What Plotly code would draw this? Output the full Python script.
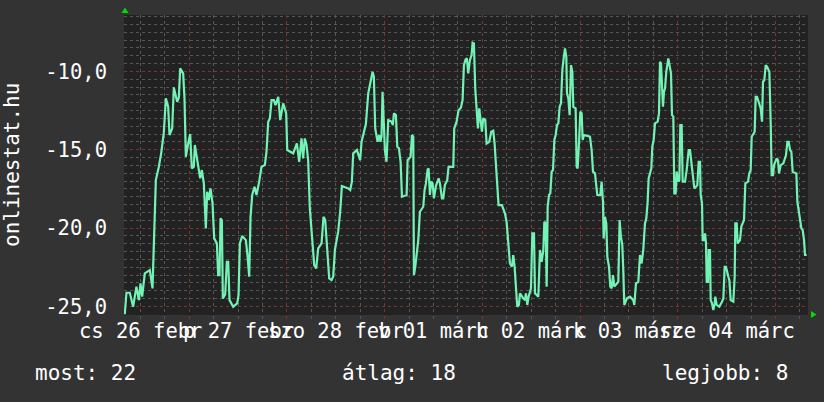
import plotly.graph_objects as go

# hours since 2015-02-26 00:00 and the plotted (negated) rank values
hours = [
    8.20, 8.60, 9.42, 10.24, 11.05, 11.64, 12.05, 12.46, 13.11, 14.34, 15.0, 15.41, 15.82, 16.56, 17.13,
    17.78, 18.28, 18.85, 19.18, 19.83, 20.24, 21.06, 21.47, 21.8, 22.53, 22.86, 23.19, 23.76, 24.25, 24.66,
    25.15, 25.4, 25.97, 26.71, 27.12, 27.61, 28.1, 28.43, 28.84, 29.25, 29.74, 30.15, 30.81, 31.13, 31.46,
    31.71, 32.03, 32.28, 32.85, 33.26, 33.59, 33.92, 34.82, 35.8, 36.13, 36.46, 37.03, 37.93, 38.34, 38.75,
    39.08, 39.49, 40.06, 40.55, 41.2,
    41.78, 42.6, 43.0, 43.42, 43.83, 44.24, 44.81, 45.22, 45.88, 46.37, 47.1, 47.84, 48.09, 49.56, 50.46,
    51.03, 51.6, 52.0, 52.42, 52.83, 53.23, 53.64, 54.05, 54.72, 55.21, 55.7, 56.52, 57.0, 57.42, 57.99,
    58.4, 58.97, 59.38, 59.8, 60.6, 61.1, 61.52, 63.07, 63.56, 63.97, 64.3, 65.2, 66.0, 66.35, 66.84,
    67.41, 67.99, 68.56, 69.05, 69.37, 69.7, 70.28, 70.68, 71.0, 71.25, 71.5, 71.83, 72.08, 72.48, 72.9,
    73.71, 74.04, 74.3,
    74.79, 75.12, 75.53, 75.94, 76.27, 77.41, 77.66, 78.4, 78.72, 79.05, 79.21, 79.54, 79.87, 80.28, 80.68,
    81.5, 81.83, 82.16, 82.57, 82.81, 83.14, 83.47, 83.8, 84.12, 84.61, 85.27, 85.6, 86.09, 86.41, 86.82,
    87.39, 87.72, 88.87, 89.11, 89.69, 90.18, 90.75, 91.16, 91.49, 91.9, 92.22, 92.55, 92.96, 93.37, 93.62,
    93.94, 94.27, 94.6, 94.93, 95.26, 95.58, 95.91, 96.24, 96.73, 97.06, 97.71, 98.2, 98.69, 99.02, 99.27,
    99.6, 100.0, 100.82, 101.56, 101.97, 102.38, 102.79, 103.28, 103.61, 103.94, 104.26, 104.59, 105.0, 105.25, 106.07,
    106.48, 106.72, 107.05, 107.38, 107.71,
    107.96, 108.29, 108.7, 108.94, 109.76, 110.17, 110.58, 110.99, 111.24, 111.56, 111.81, 112.06, 112.39, 112.71, 113.04,
    113.37, 113.7, 114.02, 114.35, 114.68, 115.0, 115.33, 115.66, 115.99, 116.31, 116.64, 116.8, 117.13, 117.46, 117.79,
    118.11, 118.36, 118.93, 119.18, 119.42, 119.75, 120.08, 120.41, 120.65, 120.98, 122.45, 122.86, 123.19, 123.68, 124.25,
    124.99, 125.31, 125.64, 125.81, 126.13, 126.46, 126.71, 127.12, 127.44, 127.77, 128.1, 128.43, 129.41, 129.73, 130.06,
    130.39, 130.63, 130.88, 131.53, 132.27, 133.09, 133.34, 133.75, 134.32, 134.73, 135.14, 135.55, 135.96, 136.29, 136.62,
    136.86, 137.52, 137.76, 138.09, 138.42, 139.07, 139.4, 139.65, 139.89,
    140.14, 140.38, 140.63, 140.88, 141.2, 141.69, 142.35, 142.6, 142.92, 143.17, 143.5, 143.74, 144.15, 144.4, 144.64,
    144.97, 145.22, 145.79, 146.2, 146.69, 147.02, 147.51, 147.84, 148.08, 148.82, 149.15, 149.48, 149.64, 149.97, 150.13,
    150.46, 150.71, 150.95, 151.12, 151.44, 151.61, 151.93, 152.1, 152.42, 152.75, 153.08, 153.24, 153.57, 154.22, 154.88,
    155.21, 155.53, 155.86, 156.44, 156.68, 157.01, 157.66, 157.99, 158.15, 158.48, 158.73, 159.3, 159.63, 160.28, 160.61,
    161.27, 161.59, 161.92, 162.17, 162.9, 163.15, 163.48, 164.13, 164.38, 164.71, 164.95, 165.28, 165.61, 165.94, 166.51,
    166.84, 167.08, 167.41, 167.66, 168.31, 168.64, 168.88, 169.3, 169.95, 170.6, 170.93, 171.26, 171.59, 171.91, 172.24,
    173.14, 173.39, 173.88, 174.37, 174.7, 175.03, 175.27, 175.68,
]
rank = [
    -25.5, -24.13, -24.13, -25.02, -23.74, -24.6, -23.53, -24.38, -22.89, -22.68, -23.85, -20.13, -16.94, -16.09, -15.23,
    -13.91, -11.72, -12.26, -14.06, -13.64, -11.02, -11.94, -11.66, -9.81, -10.13, -11.72, -15.45, -14.60, -14.0, -16.19,
    -16.09, -14.70, -15.77, -16.83, -16.30, -17.15, -20.02, -17.68, -18.21, -17.47, -18.43, -20.66, -20.98, -23.0, -23.0,
    -19.38, -19.49, -24.49, -24.23, -22.15, -22.15, -24.6, -25.02, -24.81, -24.28, -20.98, -20.51, -20.77, -21.77, -23.11,
    -19.28, -17.89, -17.36, -17.89, -17.04,
    -16.09, -15.98, -15.13, -13.21, -13.0, -11.83, -11.83, -12.15, -11.62, -13.11, -12.04, -12.68, -15.02, -15.23, -14.60,
    -15.77, -14.28, -15.55, -14.28, -14.70, -15.66, -18.74, -20.13, -22.36, -22.57, -21.30, -20.98, -19.28, -19.49, -21.40,
    -23.21, -23.32, -23.11, -21.40, -20.23, -18.96, -17.32, -17.47, -17.57, -17.04, -15.23, -15.02, -15.66, -14.49, -14.0,
    -13.36, -11.40, -10.66, -10.02, -10.34, -13.64, -14.49, -14.06, -14.49, -14.17, -11.30, -14.0, -15.02, -15.77, -13.11,
    -13.21, -13.43, -12.68,
    -12.79, -14.81, -14.91, -15.77, -18.0, -17.89, -15.66, -15.45, -14.06, -14.17, -23.0, -22.47, -21.83, -20.77, -18.96,
    -18.64, -17.57, -17.15, -16.26, -16.19, -17.89, -17.04, -17.15, -18.11, -17.32, -16.83, -17.15, -18.11, -18.11, -17.26,
    -16.94, -16.09, -16.09, -13.64, -13.21, -12.47, -12.32, -11.83, -9.60, -9.23, -9.17, -10.13, -9.28, -8.96, -8.17,
    -8.21, -11.09, -12.36, -13.64, -12.36, -13.21, -13.85, -13.0, -13.11, -14.60, -14.49, -13.85, -13.79, -14.6, -15.77,
    -17.15, -18.53, -18.53, -19.06, -19.60, -21.30, -22.26, -22.47, -21.72, -22.47, -24.17, -25.02, -24.91, -24.17, -24.49,
    -24.6, -24.17, -24.91, -24.38, -23.96,
    -23.85, -20.34, -20.34, -24.17, -24.38, -21.40, -22.15, -21.40, -19.60, -19.70, -23.74, -18.64, -17.89, -17.79, -16.40,
    -16.30, -14.38, -14.06, -13.43, -13.32, -12.26, -12.04, -9.91, -9.17, -8.53, -9.06, -11.40, -11.72, -12.79, -9.60,
    -10.02, -12.26, -12.36, -16.09, -16.19, -14.60, -12.57, -12.68, -14.38, -14.06, -14.17, -15.02, -16.40, -16.51, -17.89,
    -17.89, -17.04, -18.32, -20.66, -19.28, -19.70, -21.83, -22.47, -23.74, -23.85, -23.0, -23.74, -23.43, -19.49, -20.55,
    -21.09, -22.68, -24.91, -24.49, -24.38, -24.6, -24.91, -23.53, -23.43, -21.72, -22.26, -21.36, -19.70, -19.38, -18.32,
    -16.83, -16.19, -14.81, -14.38, -13.32, -13.21, -12.68, -9.38, -9.49,
    -11.30, -12.26, -11.30, -11.09, -10.02, -9.17, -10.13, -12.79, -12.89, -17.79, -17.79, -16.40, -17.04, -16.94, -13.43,
    -13.43, -17.04, -17.04, -16.30, -15.02, -15.02, -16.09, -16.72, -17.47, -17.26, -15.77, -15.77, -17.89, -18.43, -20.77,
    -20.77, -20.34, -20.98, -23.43, -23.43, -21.40, -21.40, -24.60, -24.81, -25.23, -24.81, -24.38, -24.91, -25.02, -24.70,
    -24.49, -22.47, -22.47, -23.11, -23.32, -24.60, -24.70, -23.11, -19.70, -19.70, -20.98, -20.77, -19.91, -19.49, -17.15,
    -17.04, -16.51, -16.30, -14.17, -13.85, -11.62, -11.62, -12.15, -12.36, -13.21, -10.66, -10.55, -9.60, -9.70, -10.02,
    -13.32, -16.62, -16.62, -15.98, -15.55, -15.66, -16.51, -15.98, -15.87, -15.34, -14.49, -14.49, -15.02, -15.13, -16.40,
    -16.51, -18.32, -19.28, -20.02, -20.13, -20.77, -21.72, -21.72,
]

day_label_hours = [12, 36, 60, 84, 108, 132, 156]
day_labels = ["cs 26 febr", "p 27 febr", "szo 28 febr", "v 01 márc", "h 02 márc", "k 03 márc", "sze 04 márc"]
y_tick_vals = [-25, -20, -15, -10]
y_tick_text = ["-25,0", "-20,0", "-15,0", "-10,0"]
y_title = "onlinestat.hu"
stat_texts = ["most: 22", "átlag: 18", "legjobb: 8"]

W, H = 824, 402
L, R, T, B = 124, 16, 15, 87
PW, PH = W - L - R, H - T - B


def px(x):
    return (x - L) / PW


def py(y):
    return (H - B - y) / PH


FONT = "DejaVu Sans Mono"
FS = 20.5
MAJ = "#7a3434"
MIN = "#565656"

fig = go.Figure(go.Scatter(x=hours, y=rank, mode="lines",
                           line=dict(color="#72f2b4", width=2.2), hoverinfo="skip"))

fig.update_layout(
    width=W, height=H, margin=dict(l=L, r=R, t=T, b=B),
    paper_bgcolor="#333333", plot_bgcolor="#222222", showlegend=False,
    font=dict(family=FONT, size=FS, color="#ffffff"),
)
fig.update_xaxes(
    range=[8, 176], tickmode="linear", tick0=0, dtick=24,
    showgrid=True, gridcolor=MAJ, griddash="dot", gridwidth=1,
    showticklabels=False, ticks="outside", ticklen=3, tickcolor=MAJ,
    zeroline=False, showline=False,
    minor=dict(tickmode="linear", tick0=0, dtick=6, showgrid=True, gridcolor=MIN,
               griddash="dot", ticks="outside", ticklen=3, tickcolor=MIN),
)
fig.update_yaxes(
    range=[-25.55, -6.40], tickmode="array", tickvals=y_tick_vals, ticktext=y_tick_text,
    showgrid=True, gridcolor=MAJ, griddash="dot", gridwidth=1,
    zeroline=False, showline=False, ticks="", ticklabelstandoff=16,
    tickfont=dict(family=FONT, size=FS, color="#ffffff"),
    minor=dict(tickmode="linear", tick0=0, dtick=0.5, showgrid=True, gridcolor=MIN, griddash="dot"),
)

ann = []
for h, t in zip(day_label_hours, day_labels):
    ann.append(dict(x=h, xref="x", y=0, yref="paper", yanchor="top", yshift=-2,
                    text=t, showarrow=False, font=dict(family=FONT, size=FS, color="#ffffff")))
ann.append(dict(x=px(12), xref="paper", y=py(165), yref="paper", text=y_title, textangle=-90,
                showarrow=False, xanchor="center", yanchor="middle",
                font=dict(family=FONT, size=21, color="#ffffff")))
for t, xp, anc in zip(stat_texts, [33, 398.5, 790], ["left", "center", "right"]):
    ann.append(dict(x=px(xp), xref="paper", y=py(373), yref="paper", text=t, showarrow=False,
                    xanchor=anc, yanchor="middle", font=dict(family=FONT, size=21, color="#ffffff")))
fig.update_layout(annotations=ann)


def tri(points):
    p = [(px(a), py(b)) for a, b in points]
    return "M {} {} L {} {} L {} {} Z".format(p[0][0], p[0][1], p[1][0], p[1][1], p[2][0], p[2][1])


fig.update_layout(shapes=[
    dict(type="path", xref="paper", yref="paper", path=tri([(125, 7.5), (121.5, 13), (128.5, 13)]),
         fillcolor="#00dd00", line=dict(width=0)),
    dict(type="path", xref="paper", yref="paper", path=tri([(816.5, 314.5), (811, 311), (811, 318)]),
         fillcolor="#00dd00", line=dict(width=0)),
])

fig.write_html("out.html", config={"displayModeBar": False},
               post_script="document.body.style.margin='0';document.body.style.overflow='hidden';")
